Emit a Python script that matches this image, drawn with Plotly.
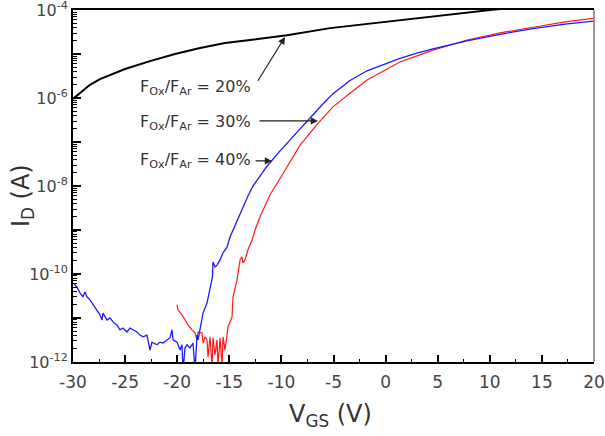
import numpy as np
import plotly.graph_objects as go

# ---- data (VGS in V, log10 of ID in A) ----
v_20 = [-30.0, -29.33, -28.37, -27.41, -25.01, -22.61, -20.21, -17.81, -15.41, -13.01,
        -9.46, -5.33, 1.38, 6.18, 10.02, 12.9]
logi_20 = [-6.02, -5.89, -5.70, -5.57, -5.34, -5.16, -5.0, -4.86, -4.75, -4.68,
           -4.57, -4.41, -4.23, -4.09, -4.0, -3.93]

v_30 = [-29.97, -29.64, -29.33, -29.04, -28.85, -28.66, -28.37, -28.08, -27.70, -27.41,
        -27.22, -27.12, -26.74, -26.45, -26.16, -25.78, -25.49, -25.20, -24.82, -24.53,
        -24.24, -23.86, -23.57, -23.28, -22.90, -22.61, -22.42, -21.94, -21.65, -21.36,
        -20.98, -20.69, -20.50, -20.40, -20.02, -19.73, -19.54, -19.44, -19.25, -19.06,
        -18.77, -18.48, -18.29, -18.10, -18.00, -17.81, -17.62, -17.52, -17.14, -16.85,
        -16.62, -16.56, -16.37, -16.18, -15.89, -15.60, -15.22, -14.93, -14.64, -14.26,
        -13.70, -13.20, -12.73, -12.00, -11.38, -10.13, -8.89, -8.21, -7.26, -6.20,
        -5.05, -3.42, -1.78, 0.0, 1.38, 3.0, 4.55, 7.81, 10.98, 14.15, 17.22, 19.95]
logi_30 = [-10.21, -10.29, -10.43, -10.52, -10.41, -10.52, -10.59, -10.70, -10.82, -10.93,
           -11.05, -10.89, -11.05, -11.00, -11.09, -11.16, -11.27, -11.23, -11.32, -11.23,
           -11.27, -11.32, -11.39, -11.43, -11.39, -11.73, -11.55, -11.61, -11.55, -11.57,
           -11.50, -11.45, -11.27, -11.50, -11.55, -11.73, -11.61, -12.2, -11.68, -11.61,
           -11.68, -11.57, -12.2, -11.39, -11.50, -11.27, -11.05, -10.89, -10.66, -10.36,
           -10.07, -9.73, -9.84, -9.80, -9.68, -9.52, -9.39, -9.16, -9.0, -8.8,
           -8.5, -8.22, -8.0, -7.75, -7.55, -7.2, -6.88, -6.68, -6.45, -6.18,
           -5.9, -5.6, -5.38, -5.22, -5.1, -4.98, -4.88, -4.70, -4.55, -4.42, -4.32, -4.25]

v_40 = [-20.02, -19.92, -19.54, -19.25, -18.96, -18.58, -18.29, -18.10, -18.00, -17.62,
        -17.52, -17.33, -17.14, -17.04, -16.85, -16.66, -16.56, -16.37, -16.18, -16.08,
        -15.89, -15.70, -15.60, -15.41, -15.22, -15.12, -14.74, -14.64, -14.26, -13.97,
        -13.78, -13.69, -13.49, -13.21, -12.82, -12.53, -12.05, -11.09, -9.85, -8.21,
        -6.58, -5.05, -3.42, -1.78, 1.38, 4.55, 7.81, 10.98, 14.15, 17.22, 19.95]
logi_40 = [-10.70, -10.82, -10.93, -11.05, -11.16, -11.27, -11.34, -11.50, -11.32, -11.34,
           -11.57, -11.43, -11.50, -11.89, -11.43, -12.1, -11.45, -11.84, -11.50, -12.1,
           -11.45, -12.1, -11.43, -11.73, -11.27, -11.20, -10.98, -10.52, -10.14, -9.68,
           -9.61, -9.75, -9.68, -9.45, -9.23, -9.0, -8.7, -8.2, -7.72, -7.07,
           -6.6, -6.2, -5.89, -5.59, -5.18, -4.91, -4.68, -4.52, -4.39, -4.27, -4.19]

x_ticks = [-30, -25, -20, -15, -10, -5, 0, 5, 10, 15, 20]
y_decades = [-12, -11, -10, -9, -8, -7, -6, -5, -4]
labels = ["20%", "30%", "40%"]

FONT = "DejaVu Sans"

fig = go.Figure()
fig.add_trace(go.Scatter(x=v_20, y=10 ** np.array(logi_20), mode="lines",
                         line=dict(color="black", width=2), showlegend=False))
fig.add_trace(go.Scatter(x=v_40, y=10 ** np.array(logi_40), mode="lines",
                         line=dict(color="#ff1a1a", width=1.2), showlegend=False))
fig.add_trace(go.Scatter(x=v_30, y=10 ** np.array(logi_30), mode="lines",
                         line=dict(color="#1a1aff", width=1.3), showlegend=False))

ytickvals = [10.0 ** e for e in y_decades]
yticktext = [("10<sup>%d</sup>" % e) if e % 2 == 0 else "" for e in y_decades]
yminor = [k * 10.0 ** e for e in y_decades[:-1] for k in range(2, 10)]

fig.update_xaxes(range=[-30, 20], tickvals=x_ticks, ticktext=[str(t) for t in x_ticks],
                 ticks="inside", ticklen=7, tickwidth=1.5, tickcolor="black",
                 showline=True, linecolor="black", linewidth=2, mirror=True,
                 showgrid=False, zeroline=False, automargin=False,
                 ticklabeloverflow="allow",
                 tickfont=dict(family=FONT, size=17, color="#444"),
                 ticklabelstandoff=4,
                 minor=dict(tickvals=[t + 2.5 for t in x_ticks[:-1]], ticks="inside",
                            ticklen=3, tickwidth=1.2, tickcolor="black"))
fig.update_yaxes(type="log", range=[-12.002, -3.998], tickvals=ytickvals, ticktext=yticktext,
                 ticks="inside", ticklen=8, tickwidth=2, tickcolor="black",
                 showline=True, linecolor="black", linewidth=2, mirror=False,
                 showgrid=False, zeroline=False, automargin=False,
                 ticklabeloverflow="allow",
                 tickfont=dict(family=FONT, size=16, color="#444"),
                 minor=dict(tickvals=yminor, ticks="inside", ticklen=4, tickwidth=1.2,
                            tickcolor="black"))

# right border (gray)
fig.add_shape(type="line", xref="paper", yref="paper", x0=1, x1=1, y0=0, y1=1,
              line=dict(color="#777", width=1.5))

# labels
text_y = [-5.75, -6.55, -7.41]
for lab, ty in zip(labels, text_y):
    fig.add_annotation(x=-23.76, y=ty, xref="x", yref="y", xanchor="left", yanchor="middle",
                       text="F<sub>Ox</sub>/F<sub>Ar</sub> = " + lab, showarrow=False,
                       font=dict(family=FONT, size=16, color="#333"))

arrows = [(-9.65, -4.61, -12.34, -5.64), (-6.49, -6.52, -12.25, -6.52),
          (-10.9, -7.43, -12.63, -7.43)]
for hx, hy, tx, ty in arrows:
    fig.add_annotation(x=hx, y=hy, ax=tx, ay=ty, xref="x", yref="y", axref="x", ayref="y",
                       text="", showarrow=True, arrowhead=2, arrowsize=1.2, arrowwidth=1.2,
                       arrowcolor="#222", standoff=0, startstandoff=0)

# axis titles
fig.add_annotation(x=-0.098, y=0.474, xref="paper", yref="paper", textangle=-90,
                   xanchor="center", yanchor="middle",
                   text="I<sub>D</sub> (A)", showarrow=False,
                   font=dict(family=FONT, size=24, color="#333"))
fig.add_annotation(x=0.495, y=-0.153, xref="paper", yref="paper",
                   xanchor="center", yanchor="middle",
                   text="V<sub>GS</sub> (V)", showarrow=False,
                   font=dict(family=FONT, size=24, color="#333"))

fig.update_layout(width=605, height=436, margin=dict(l=73, r=11, t=10, b=74),
                  paper_bgcolor="white", plot_bgcolor="white", showlegend=False)

fig.write_html("out.html")
